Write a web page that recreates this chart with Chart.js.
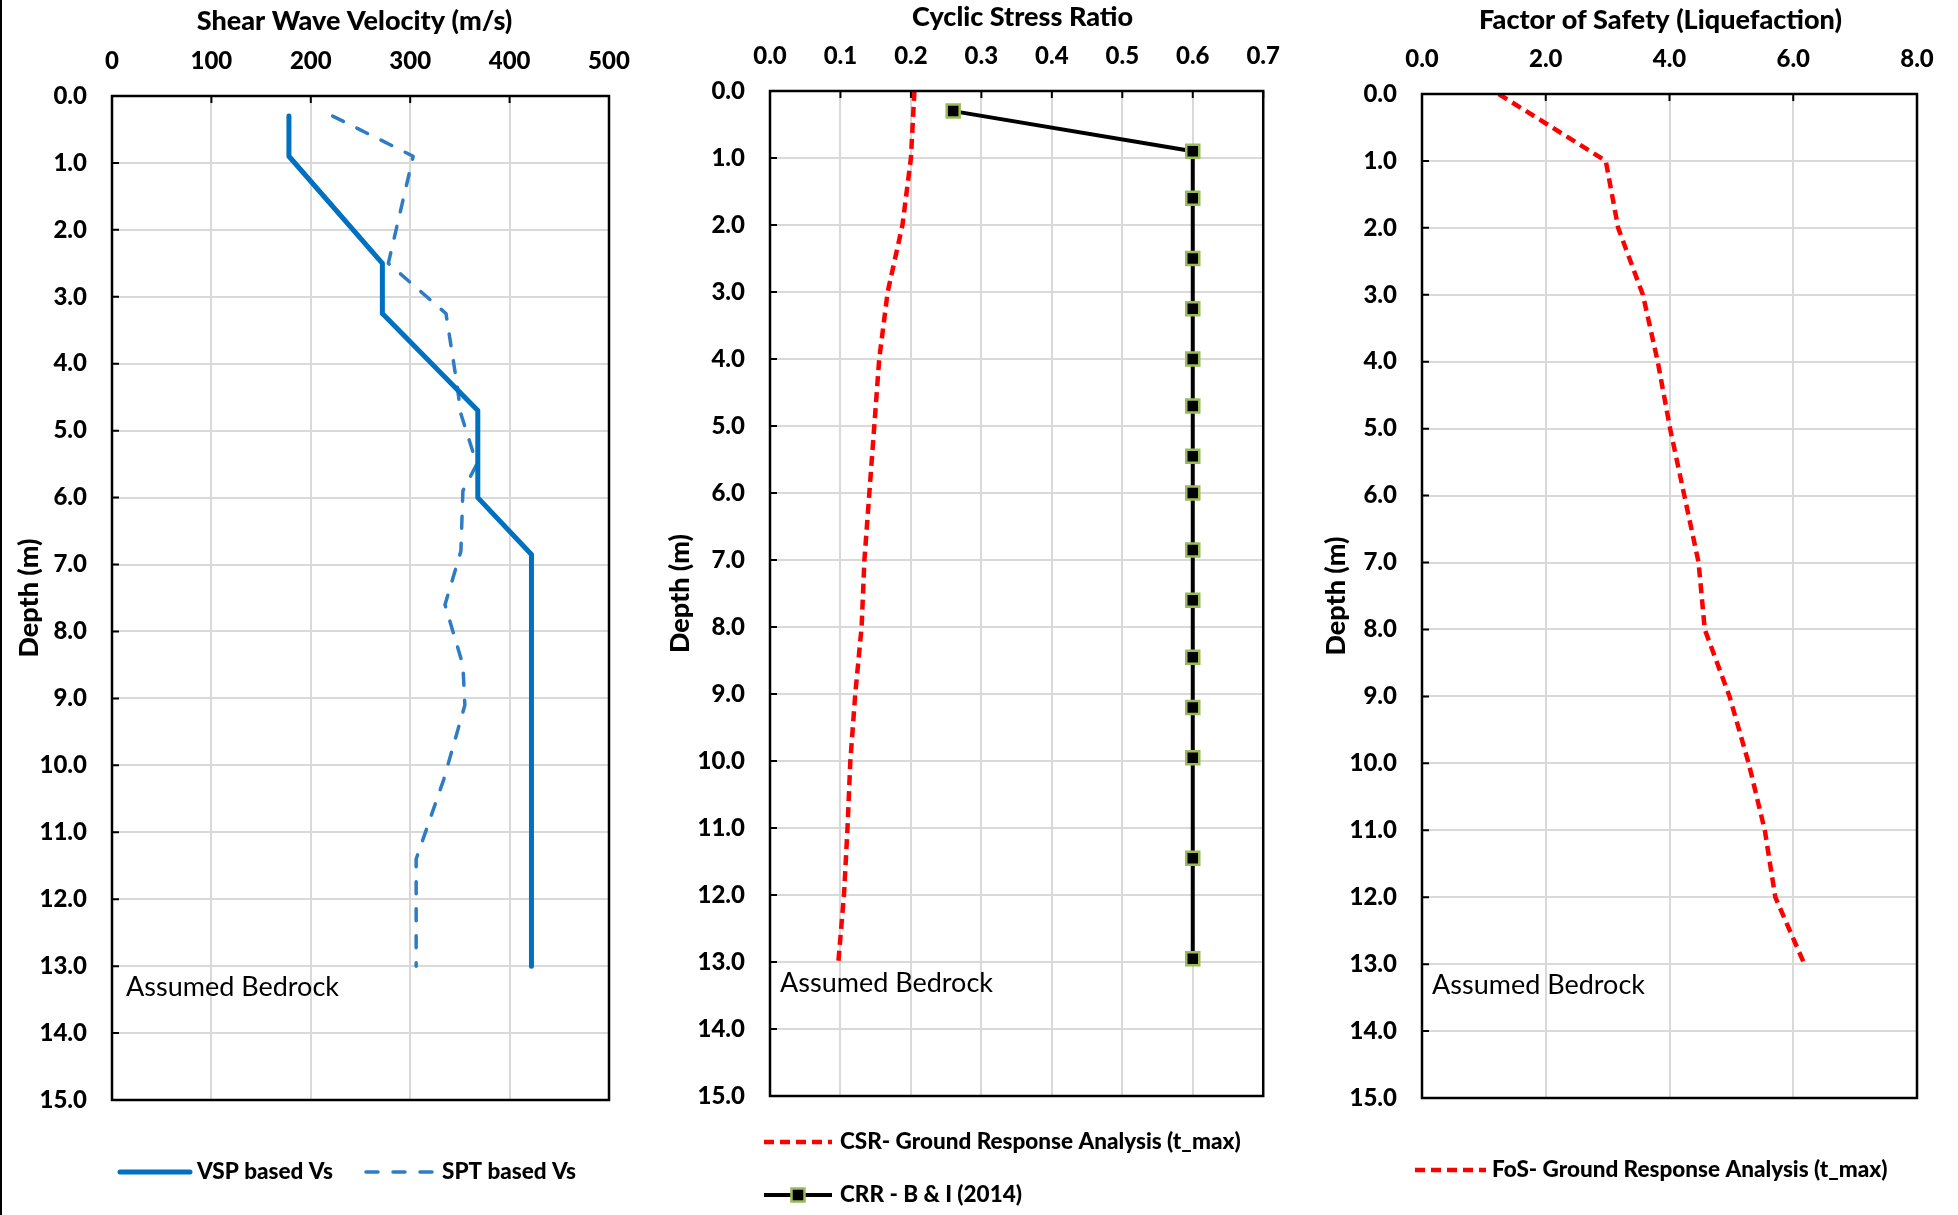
<!DOCTYPE html>
<html>
<head>
<meta charset="utf-8">
<script src="https://cdn.jsdelivr.net/npm/chart.js@4.4.1/dist/chart.umd.min.js"></script>
<style>
html, body { margin: 0; padding: 0; background: #fff; }
#wrap { position: relative; width: 1958px; height: 1215px; overflow: hidden; background: #fff; }
.col { position: absolute; top: 0; height: 1215px; }
#edge { position: absolute; left: 0; top: 0; width: 2px; height: 1215px; background: #000; }
</style>
</head>
<body>
<div id="wrap">
  <div class="col" style="left:0px;width:650px"><canvas id="c1"></canvas></div>
  <div class="col" style="left:650px;width:650px"><canvas id="c2"></canvas></div>
  <div class="col" style="left:1300px;width:658px"><canvas id="c3"></canvas></div>
  <div id="edge"></div>
</div>
<script>
// ---------------- data ----------------
// Panel 1 : shear wave velocity profiles (depth in m, Vs in m/s)
const vspDepth = [0.3, 0.9, 2.5, 3.25, 4.7, 6.0, 6.85, 13.0];
const vspVs    = [178, 178, 272, 272, 368, 368, 422, 422];
const sptDepth = [0.3, 0.9, 2.5, 3.25, 4.3, 4.75, 5.5, 5.9, 6.8, 7.6, 8.5, 9.1, 10.2, 11.4, 13.0];
const sptVs    = [222, 303, 278, 336, 347, 351, 367, 353, 351, 335, 353, 355, 334, 306, 306];

// Panel 2 : cyclic stress / resistance ratio
const csrDepth = [0, 1, 2, 3, 4, 5, 6, 7, 8, 9, 10, 11, 12, 13];
const csrValue = [0.205, 0.200, 0.188, 0.167, 0.155, 0.148, 0.141, 0.134, 0.130, 0.121, 0.114, 0.110, 0.105, 0.097];
const crrDepth = [0.3, 0.9, 1.6, 2.5, 3.25, 4.0, 4.7, 5.45, 6.0, 6.85, 7.6, 8.45, 9.2, 9.95, 11.45, 12.95];
const crrValue = [0.26, 0.6, 0.6, 0.6, 0.6, 0.6, 0.6, 0.6, 0.6, 0.6, 0.6, 0.6, 0.6, 0.6, 0.6, 0.6];

// Panel 3 : factor of safety against liquefaction
const fosDepth = [0, 1, 2, 3, 4, 5, 6, 7, 8, 9, 10, 11, 12, 13];
const fosValue = [1.24, 2.97, 3.17, 3.57, 3.81, 4.01, 4.24, 4.47, 4.57, 4.97, 5.28, 5.54, 5.71, 6.18];

// axes / texts
const depthRange = [0, 15];
const vsRange = [0, 500];
const csrRange = [0, 0.7];
const fosRange = [0, 8];
const panelTitles = ['Shear Wave Velocity (m/s)', 'Cyclic Stress Ratio', 'Factor of Safety (Liquefaction)'];
const depthTitle = 'Depth (m)';
const noteText = 'Assumed Bedrock';
const noteDepth = 13.32;
const seriesLabels = ['VSP based Vs', 'SPT based Vs', 'CSR- Ground Response Analysis (t_max)', 'CRR - B & I (2014)', 'FoS- Ground Response Analysis (t_max)'];

// ---------------- helpers ----------------
const FONT = "Lato, 'Open Sans', 'Liberation Sans', sans-serif";
const HEAVY = '900';
Chart.defaults.font.family = FONT;
Chart.defaults.color = '#000';

const pts = (xs, ys) => ys.map((d, i) => ({ x: xs[i], y: d }));

const decor = {
  id: 'decor',
  afterDraw(chart, args, o) {
    const { ctx, chartArea: a, scales } = chart;
    const xs = scales.x, ys = scales.y;
    ctx.save();
    // inside tick marks
    ctx.strokeStyle = '#000';
    ctx.lineWidth = 2;
    ctx.beginPath();
    xs.ticks.forEach(t => { const p = xs.getPixelForValue(t.value); ctx.moveTo(p, a.top); ctx.lineTo(p, a.top + 7); });
    ys.ticks.forEach(t => { const p = ys.getPixelForValue(t.value); ctx.moveTo(a.left, p); ctx.lineTo(a.left + 7, p); });
    ctx.stroke();
    // frame
    ctx.lineWidth = 2.5;
    ctx.strokeRect(a.left, a.top, a.right - a.left, a.bottom - a.top);
    // title
    ctx.fillStyle = '#000';
    ctx.font = HEAVY + ' 27px ' + FONT;
    ctx.textAlign = 'center';
    ctx.textBaseline = 'middle';
    ctx.fillText(o.title, (a.left + a.right) / 2 + o.titleDx, a.top - o.titleDy);
    // note
    ctx.font = '27px ' + FONT;
    ctx.textAlign = 'left';
    ctx.fillText(noteText, a.left + o.noteDx, ys.getPixelForValue(noteDepth));
    // legend
    o.legend.forEach(item => {
      const ds = chart.data.datasets[item.ds];
      const y = a.bottom + item.dy;
      const x0 = a.left + item.dx;
      ctx.save();
      ctx.strokeStyle = ds.borderColor;
      ctx.lineWidth = ds.borderWidth;
      ctx.setLineDash(ds.borderDash || []);
      ctx.lineCap = ds.borderCapStyle || 'butt';
      ctx.beginPath();
      ctx.moveTo(x0, y); ctx.lineTo(x0 + item.len, y);
      ctx.stroke();
      ctx.restore();
      if (ds.pointRadius) {
        const s = ds.pointRadius * Math.SQRT2;
        const cx = x0 + item.len / 2;
        ctx.fillStyle = ds.pointBackgroundColor;
        ctx.fillRect(cx - s / 2, y - s / 2, s, s);
        ctx.strokeStyle = ds.pointBorderColor;
        ctx.lineWidth = ds.pointBorderWidth;
        ctx.strokeRect(cx - s / 2, y - s / 2, s, s);
      }
      ctx.fillStyle = '#000';
      ctx.font = HEAVY + ' 22.5px ' + FONT;
      ctx.textAlign = 'left';
      ctx.textBaseline = 'middle';
      ctx.fillText(ds.label, x0 + item.len + item.gap, y);
    });
    ctx.restore();
  }
};

function makeOptions(p) {
  return {
    responsive: true,
    maintainAspectRatio: false,
    animation: false,
    events: [],
    layout: { padding: { left: 0, right: p.padRight, top: 0, bottom: p.padBottom } },
    plugins: {
      legend: { display: false },
      tooltip: { enabled: false },
      decor: p.decor
    },
    scales: {
      x: {
        type: 'linear', position: 'top',
        min: p.xRange[0], max: p.xRange[1],
        afterFit: s => { s.height = p.top; },
        grid: { color: '#D9D9D9', lineWidth: 2, drawTicks: false },
        border: { display: false },
        ticks: {
          stepSize: p.xStep, padding: 20, maxRotation: 0, autoSkip: false,
          font: { size: 24, weight: HEAVY }, color: '#000',
          callback: v => v.toFixed(p.xDec)
        }
      },
      y: {
        type: 'linear', position: 'left', reverse: true,
        min: depthRange[0], max: depthRange[1],
        afterFit: s => { s.width = p.left; },
        grid: { color: '#D9D9D9', lineWidth: 2, drawTicks: false },
        border: { display: false },
        title: { display: true, text: depthTitle, font: { size: 27, weight: HEAVY }, color: '#000', padding: { top: p.yTitlePad, bottom: 0 } },
        ticks: {
          stepSize: 1, padding: 25, autoSkip: false,
          font: { size: 24, weight: HEAVY }, color: '#000',
          callback: v => v.toFixed(1)
        }
      }
    }
  };
}

// ---------------- panel 1 ----------------
new Chart(document.getElementById('c1'), {
  type: 'scatter',
  data: {
    datasets: [
      { label: seriesLabels[0], data: pts(vspVs, vspDepth), showLine: true, borderColor: '#0070C0', borderWidth: 5,
        borderCapStyle: 'round', borderJoinStyle: 'round', pointRadius: 0, fill: false },
      { label: seriesLabels[1], data: pts(sptVs, sptDepth), showLine: true, borderColor: '#2E7CC4', borderWidth: 3.5,
        borderDash: [12, 15], borderCapStyle: 'round', borderJoinStyle: 'round', pointRadius: 0, fill: false }
    ]
  },
  options: makeOptions({
    xRange: vsRange, xStep: 100, xDec: 0, top: 96, left: 112, padRight: 41, padBottom: 115, yTitlePad: 13,
    decor: { title: panelTitles[0], titleDx: -6, titleDy: 75, noteDx: 14,
      legend: [ { ds: 0, dx: 8, dy: 72, len: 70, gap: 7 }, { ds: 1, dx: 254, dy: 72, len: 69, gap: 7 } ] }
  }),
  plugins: [decor]
});

// ---------------- panel 2 ----------------
new Chart(document.getElementById('c2'), {
  type: 'scatter',
  data: {
    datasets: [
      { label: seriesLabels[2], data: pts(csrValue, csrDepth), showLine: true, borderColor: '#FF0000', borderWidth: 4.5,
        borderDash: [10, 6], pointRadius: 0, fill: false },
      { label: seriesLabels[3], data: pts(crrValue, crrDepth), showLine: true, borderColor: '#000000', borderWidth: 4,
        pointStyle: 'rect', pointRadius: 9.2, pointBackgroundColor: '#000000', pointBorderColor: '#9BBB59', pointBorderWidth: 2.5, fill: false }
    ]
  },
  options: makeOptions({
    xRange: csrRange, xStep: 0.1, xDec: 1, top: 91, left: 120, padRight: 35, padBottom: 119, yTitlePad: 14,
    decor: { title: panelTitles[1], titleDx: 6, titleDy: 74, noteDx: 10,
      legend: [ { ds: 0, dx: -6, dy: 46, len: 68, gap: 8 }, { ds: 1, dx: -6, dy: 99, len: 68, gap: 8 } ] }
  }),
  plugins: [decor]
});

// ---------------- panel 3 ----------------
new Chart(document.getElementById('c3'), {
  type: 'scatter',
  data: {
    datasets: [
      { label: seriesLabels[4], data: pts(fosValue, fosDepth), showLine: true, borderColor: '#FF0000', borderWidth: 4.5,
        borderDash: [10, 6], pointRadius: 0, fill: false }
    ]
  },
  options: makeOptions({
    xRange: fosRange, xStep: 2, xDec: 1, top: 94, left: 122, padRight: 41, padBottom: 117, yTitlePad: 20,
    decor: { title: panelTitles[2], titleDx: -9, titleDy: 74, noteDx: 10,
      legend: [ { ds: 0, dx: -7, dy: 72, len: 71, gap: 6 } ] }
  }),
  plugins: [decor]
});
</script>
</body>
</html>
